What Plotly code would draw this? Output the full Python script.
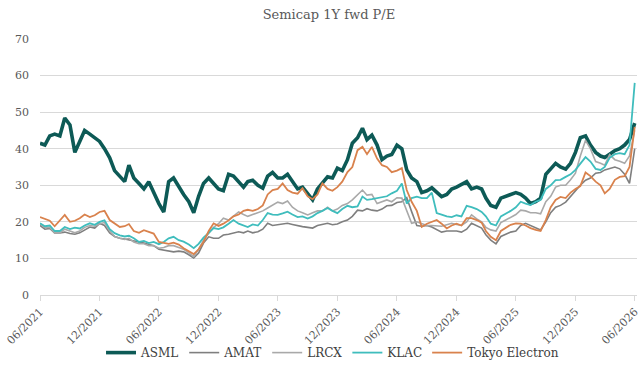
import plotly.graph_objects as go
import pandas as pd

# semi-monthly observation dates (1st and 16th of each month), 06/2021 .. 06/2026
dates = []
for m in pd.date_range("2021-06-01", "2026-06-01", freq="MS"):
    dates.append(m)
    if m < pd.Timestamp("2026-06-01"):
        dates.append(m + pd.Timedelta(days=15))

tick_dates = ["2021-06-01", "2021-12-01", "2022-06-01", "2022-12-01", "2023-06-01",
              "2023-12-01", "2024-06-01", "2024-12-01", "2025-06-01", "2025-12-01",
              "2026-06-01"]
tick_labels = ["06/2021", "12/2021", "06/2022", "12/2022", "06/2023",
               "12/2023", "06/2024", "12/2024", "06/2025", "12/2025", "06/2026"]

asml = [41.5, 41, 43.5, 44, 43.5, 48.4, 46.5, 39, 42, 45,
        44, 43, 42, 40, 37.5, 34, 32.5, 31, 35.5, 32,
        30.5, 29, 31, 28, 25, 22.7, 31, 32, 29.5, 27.5,
        25.5, 22.5, 27, 30.5, 32, 30.5, 29, 28.5, 33, 32.5,
        31, 29.5, 31, 31.4, 30, 29.2, 32.5, 33.5, 32, 32,
        33, 31, 29, 29.5, 27.5, 26, 29, 30.5, 32.3, 32,
        34.7, 34, 37, 41.5, 43, 45.6, 42.5, 43.7, 41, 37,
        38, 38.4, 41, 40, 34.2, 32, 31, 28, 28.5, 29.3,
        28, 26.9, 27.5, 29, 29.5, 30.3, 31, 29, 29.5, 29,
        26.5, 24.5, 24, 26.5, 27, 27.3, 28, 27.5, 26.5, 25,
        25.5, 26.5, 33, 34.5, 36, 35, 34.4, 36, 39, 43,
        43.5, 41, 39, 38, 37.6, 38.5, 39.5, 40, 41, 42.5,
        47]

amat = [19, 18, 18.2, 17, 17, 17.2, 16.8, 16.6, 17, 17.8,
        18.6, 18.3, 19.6, 19, 17, 16, 15.5, 15.3, 15, 14.8,
        14.5, 14.2, 13.8, 13.5, 12.5, 12.3, 12, 11.8, 12, 11.8,
        11, 10.1, 11.5, 14.2, 15.9, 15.5, 15.5, 16.4, 16.6, 17,
        17.3, 17, 17.5, 17, 17.3, 18, 19.6, 19, 19.2, 19.5,
        19.6, 19.3, 18.9, 18.7, 18.5, 18.3, 19, 19.2, 19.6, 19.2,
        19.4, 20, 20.5, 21.5, 23.2, 23, 23.6, 23.2, 23, 23.5,
        24.4, 24.5, 25.3, 25.5, 26.6, 22.8, 19, 18.8, 19, 18.6,
        18, 17.2, 17.5, 17.5, 17.5, 17.2, 18, 19.6, 19, 18.3,
        16.5, 15, 14, 16, 16.6, 17.2, 17.5, 19, 19.6, 19,
        18.5, 17.8, 20, 22.5, 24, 24.5, 25.4, 27, 28.7, 30,
        31.4, 32, 33.3, 33.5, 34.2, 34.5, 35, 34.5, 33, 30.5,
        40]

lrcx = [19.5, 18.5, 18.5, 17, 17, 18, 17.5, 17, 17.5, 18.5,
        19, 18.8, 19.5, 19.8, 17.5, 16, 15.5, 15.2, 15.5, 14.5,
        14, 14, 13.5, 13.5, 12.8, 13, 13.5, 13.5, 13, 12.5,
        11.5, 10.5, 12.5, 15, 16.9, 18.5, 19.5, 21, 20.5, 21.5,
        22.7, 22, 21.5, 22, 22.5, 23, 23.8, 24.5, 25.4, 25,
        25.7, 24, 23, 22.5, 21.9, 22.5, 23, 23, 24, 23,
        23.5, 24.5, 25, 26, 27.5, 28.7, 27.3, 27.5, 25, 25.5,
        26, 25.5, 26.6, 26.5, 23, 19.6, 20, 19.5, 19, 19,
        18.8, 18.8, 19.2, 19.6, 19.3, 19, 20, 21.9, 20.8, 20,
        18.5, 17.8, 17.5, 19.8, 20.5, 21.3, 22, 23.2, 23, 22.5,
        22.5, 22.2, 25.5, 27, 29.5, 30, 30, 31.5, 33.3, 38,
        42.3, 40, 36.5, 36, 35.5, 38.4, 37, 36.6, 36, 38,
        45]

klac = [19.6, 18.8, 19, 17.5, 17.5, 18.6, 18, 18.4, 18.2, 19,
        19.6, 19.2, 20, 20.4, 18, 16.9, 16.3, 16, 16.2, 15.5,
        14.5, 14.8, 14.2, 14.5, 13.9, 14.5, 15.5, 15.9, 15, 14.6,
        13.8, 12.8, 14, 15.7, 17, 18.3, 18, 18.5, 19.5, 20.5,
        19.5, 19, 18.6, 19.3, 19, 20.5, 22.4, 22, 21.9, 22.3,
        22.8, 22, 21.3, 21.5, 20.9, 21.5, 22.4, 23, 23.8, 23,
        22.4, 23.5, 24.4, 24, 24.2, 26.9, 26, 26.2, 26.5, 26.8,
        27, 27.8, 28.5, 30.5, 25, 26.5, 26.9, 26.5, 26.5, 28,
        22.4, 22, 21.5, 21.3, 21.8, 21.5, 24.4, 24, 23.5, 22.7,
        21.5, 19.5, 19, 21.5, 22.2, 23, 24, 25.5, 25, 24.6,
        25.5, 26, 29, 30, 31.4, 31.5, 32.3, 33, 34.2, 36,
        37.7, 36.5, 34.5, 34.2, 35, 37.5, 38.5, 38.8, 38.5, 41,
        58]

tokyo = [21.3, 20.8, 20.3, 18.8, 20.5, 21.9, 20, 20.3, 21, 22,
         21.3, 21.8, 22.7, 23, 20.5, 19.5, 18.6, 18.8, 19.4, 17.5,
         17, 17.7, 17.2, 16.8, 14.5, 14.2, 14, 14.3, 13.8, 12.8,
         12, 11.2, 12.5, 14.5, 17.5, 19.6, 18.9, 19.5, 20.4, 21.5,
         22, 23, 23.3, 23, 23.5, 24.5, 27.5, 28.7, 29, 30.5,
         28.7, 28, 27.7, 29.2, 27, 26.2, 27.5, 30.5, 29, 28.5,
         29.5, 31, 33.6, 35, 39.6, 40.5, 38.5, 40.5, 37.3, 35.5,
         35, 33.6, 34, 34.7, 28.7, 25.5, 23, 18.6, 19.5, 20,
         20.5, 19.5, 18.2, 19, 19.5, 19, 21, 21, 20.5, 19.8,
         17.5, 15.9, 15, 17.5, 18.3, 19.2, 19.6, 19.5, 19, 18.3,
         17.8, 17.5, 20.5, 24, 26, 26.8, 26.5, 28, 29, 29.8,
         33.5, 32.5, 31, 30, 27.8, 29, 31.5, 32.3, 32.5, 35,
         46]

series = [
    ("ASML", asml, "#0d5a56", 3.6),
    ("AMAT", amat, "#7f7f7f", 1.6),
    ("LRCX", lrcx, "#a9a9a9", 1.6),
    ("KLAC", klac, "#3fbdbd", 1.8),
    ("Tokyo Electron", tokyo, "#d9824d", 1.8),
]

fig = go.Figure()
for name, vals, color, width in series:
    fig.add_trace(go.Scatter(x=dates, y=vals, mode="lines", name=name,
                             line=dict(color=color, width=width)))

font_family = "DejaVu Serif"
fig.update_layout(
    width=640, height=370,
    paper_bgcolor="white", plot_bgcolor="white",
    margin=dict(l=40, r=3, t=39, b=75, autoexpand=False),
    title=dict(text="Semicap 1Y fwd P/E", x=0.514, xanchor="center",
               y=0.962, yanchor="middle", yref="container",
               font=dict(family=font_family, size=13, color="#595959")),
    font=dict(family=font_family, color="#595959"),
    showlegend=True,
    legend=dict(orientation="h", x=0.49, xanchor="center", y=-0.225, yanchor="middle",
                font=dict(family=font_family, size=12, color="#404040"),
                itemwidth=30, tracegroupgap=0, bgcolor="rgba(0,0,0,0)"),
)
fig.update_xaxes(
    type="date", range=["2021-06-01", "2026-06-08"],
    tickmode="array", tickvals=tick_dates, ticktext=tick_labels, tickangle=-45,
    ticklabeloverflow="allow",
    tickfont=dict(family=font_family, size=11, color="#595959"),
    showgrid=False, showline=True, linecolor="#d9d9d9", linewidth=1,
    ticks="outside", ticklen=5, tickcolor="#d9d9d9", zeroline=False,
)
fig.update_yaxes(
    range=[0, 70], dtick=10, tick0=0,
    tickfont=dict(family=font_family, size=11, color="#595959"),
    showgrid=True, gridcolor="#d9d9d9", gridwidth=1, zeroline=False,
    showline=False, ticklabelstandoff=10,
)

fig.write_html("out.html")
